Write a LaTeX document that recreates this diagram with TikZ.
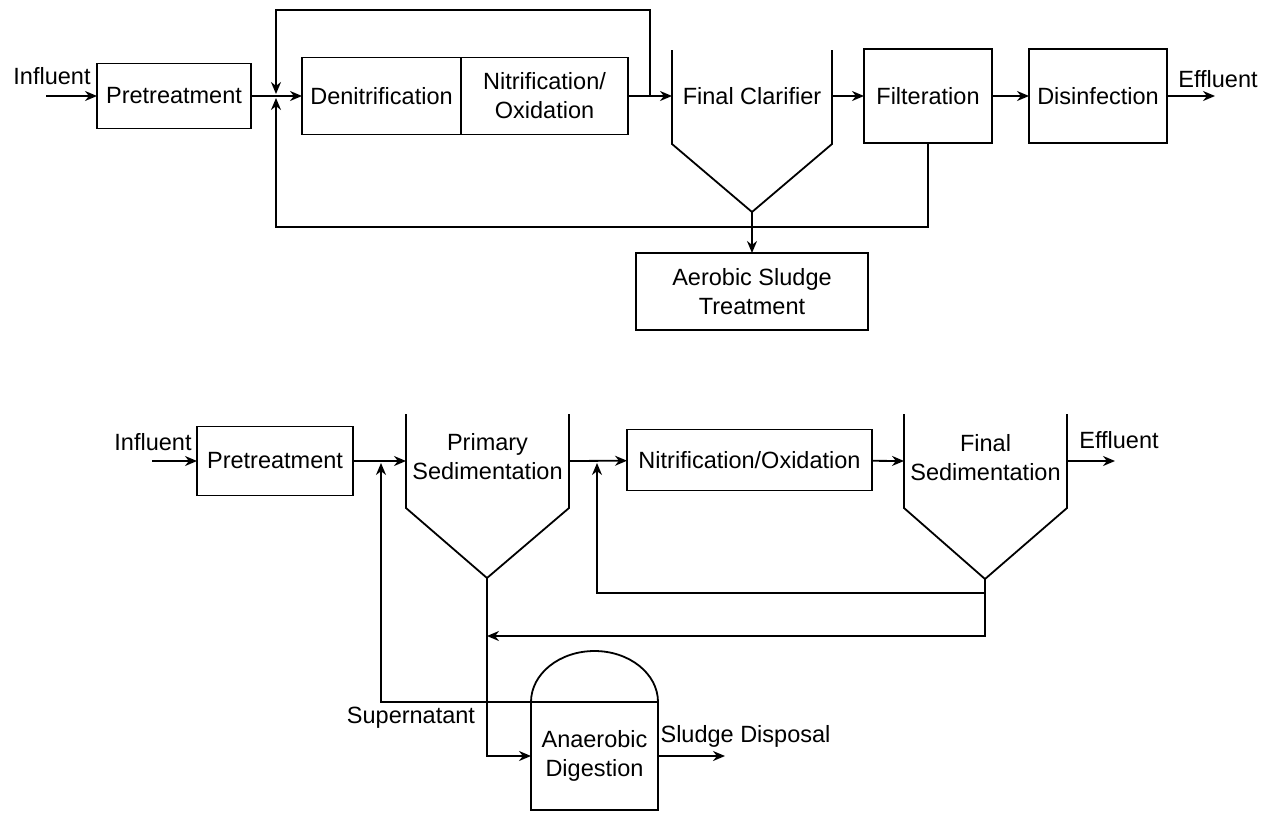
\documentclass[tikz,border=0pt]{standalone}
\usepackage{fontspec}
\setmainfont{Liberation Sans}
\usetikzlibrary{arrows.meta}

\tikzset{
  unit/.style={draw, line width=1.8pt, inner sep=0pt, outer sep=0pt, align=center},
  tank/.style={inner sep=0pt, outer sep=0pt, align=center},
  flow/.style={line width=1.8pt, -{Stealth[length=12pt,width=10pt]}},
  pipe/.style={line width=1.8pt},
  lbl/.style={inner sep=0pt}
}

\begin{document}
\begin{tikzpicture}[x=1pt,y=-1pt,font=\fontsize{23.5}{29}\selectfont]
\useasboundingbox (0,0) rectangle (1268,812);

  % Draw upper plant units
 \node[unit, minimum width=154, minimum height=65] (pre1) at (174,96) {Pretreatment};
 \node[unit, minimum width=159, minimum height=77] (den) at (381.5,96) {Denitrification};
 \node[unit, minimum width=167, minimum height=77] (nit1) at (544.5,96) {Nitrification/\\Oxidation};
 \node[tank, minimum width=160] (clar1) at (752,96) {Final Clarifier};
 \node[unit, minimum width=128, minimum height=94] (filt) at (928,96) {Filteration};
 \node[unit, minimum width=138, minimum height=94] (dis) at (1098,96) {Disinfection};
 \node[unit, minimum width=232, minimum height=77] (aer) at (752,291.5) {Aerobic Sludge\\Treatment};
  % Draw clarifier walls
 \draw[pipe] (672,50) -- (672,144) -- (752,212) coordinate (apex1) -- (832,144) -- (832,50);

  % Draw upper labels
 \node[lbl] (infl1) at (52,76) {Influent};
 \node[lbl] (effl1) at (1218,79) {Effluent};

  % Draw upper connectors
 \coordinate (in1) at (46,96);
 \coordinate (j1) at (276,96);
 \coordinate (r1) at (650,96);
 \coordinate (b1) at (276,227);
 \coordinate (out1) at (1215,96);
 \draw[flow] (in1) -- (pre1);
 \draw[pipe] (pre1) -- (j1);
 \draw[flow] (j1) -- (den);
 \draw[flow] (nit1) -- (clar1);
 \draw[flow, shorten >=2pt] (r1) -- (650,10) -| (j1);
 \draw[flow, shorten >=2pt] (filt.south) |- (b1) -- (j1);
 \draw[flow] (apex1) -- (aer.north);
 \draw[flow] (clar1) -- (filt);
 \draw[flow] (filt) -- (dis);
 \draw[flow] (dis) -- (out1);

  % Draw lower plant units
 \node[unit, minimum width=156, minimum height=69] (pre2) at (275,461) {Pretreatment};
 \node[tank, minimum width=163] (psed) at (487.5,457) {Primary\\Sedimentation};
 \node[unit, minimum width=245, minimum height=61] (nit2) at (749.5,460) {Nitrification/Oxidation};
 \node[tank, minimum width=163] (fsed) at (985.5,458) {Final\\Sedimentation};
 \node[unit, minimum width=127, minimum height=108] (dig) at (594.5,756) {Anaerobic\\Digestion};
  % Draw tank walls and digester dome
 \draw[pipe] (406,414) -- (406,508) -- (487,578) coordinate (apex2) -- (569,508) -- (569,414);
 \draw[pipe] (904,414) -- (904,508) -- (985,579) coordinate (apex3) -- (1067,508) -- (1067,414);
 \draw[pipe] (dig.north west) arc[start angle=180, end angle=0, x radius=63.5pt, y radius=51pt];

  % Draw lower labels
 \node[lbl] (infl2) at (153,442) {Influent};
 \node[lbl] (effl2) at (1119,440) {Effluent};
 \node[lbl] (super) at (411,718) {Supernatant};
 \node[lbl] (disp) at (745.5,736) {Sludge Disposal};

  % Draw lower connectors
 \coordinate (in2) at (152,461);
 \coordinate (j2) at (381,461);
 \coordinate (j3) at (597,461);
 \coordinate (s1) at (381,702);
 \coordinate (out2) at (1115,461);
 \coordinate (out3) at (725,756);
 \draw[flow] (in2) -- (pre2);
 \draw[flow] (pre2) -- (406,461);
 \draw[flow] (569,461) -- (nit2);
 \draw[flow] (nit2) -- (904,461);
 \draw[flow] (1067,461) -- (out2);
 \draw[flow, shorten >=2pt] (dig.north west) -- (s1) -- (j2);
 \draw[flow, shorten >=2pt] (apex3) -- (985,593) -| (j3);
 \draw[flow] (apex3) -- (985,636) -- (487,636);
 \draw[flow] (apex2) |- (dig.west);
 \draw[flow] (dig) -- (out3);
\end{tikzpicture}
\end{document}
